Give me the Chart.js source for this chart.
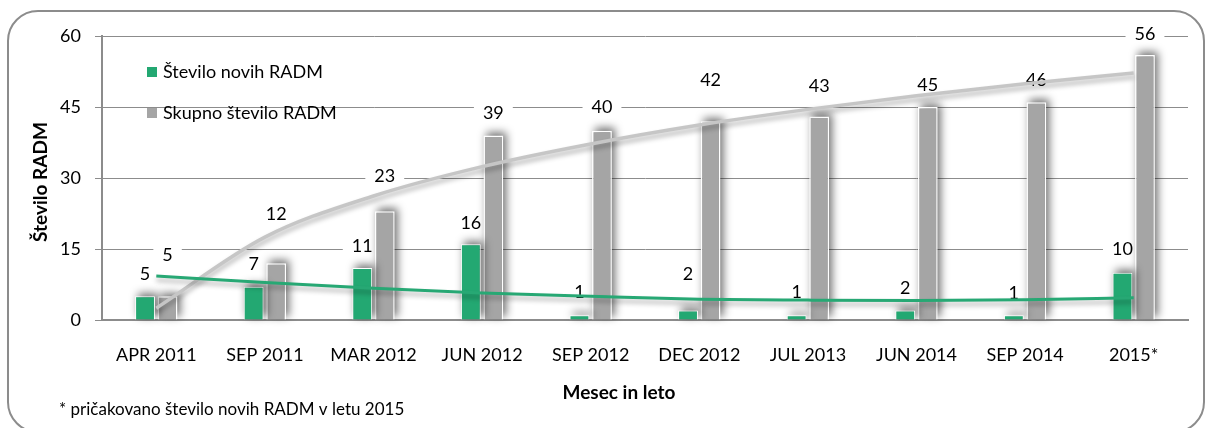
<!DOCTYPE html>
<html>
<head>
<meta charset="utf-8">
<script src="https://cdn.jsdelivr.net/npm/chart.js@4.4.1/dist/chart.umd.min.js"></script>
<style>
    html, body { margin: 0; padding: 0; background: #fff; }
</style>
</head>
<body>
<canvas id="chart_radm" width="1206" height="428"></canvas>
<script>
// podatki
const kategorije = ['APR 2011', 'SEP 2011', 'MAR 2012', 'JUN 2012', 'SEP 2012', 'DEC 2012', 'JUL 2013', 'JUN 2014', 'SEP 2014', '2015*'];
const noviRadm = [5, 7, 11, 16, 1, 2, 1, 2, 1, 10];
const skupnoRadm = [5, 12, 23, 39, 40, 42, 43, 45, 46, 56];
// trendni črti, odčitani s slike
const trendNovi = [9.3, 7.9, 6.7, 5.7, 5.0, 4.4, 4.2, 4.1, 4.3, 4.7];
const trendSkupno = [2.5, 17.5, 26.2, 32.4, 37.2, 41.2, 44.5, 47.4, 49.9, 52.2];
const yOznake = [0, 15, 30, 45, 60];

// zamik oznak nad stolpci (px)
const dvigNovi = [23, 24, 23, 22, 24, 37, 24, 23, 23, 24];
const dvigSkupno = [42, 50, 36, 23, 24, 42, 31, 23, 23, 22];

const ZELENA = '#23a872';
const SIVA = '#a5a5a5';

Chart.defaults.font.family = 'Lato';
Chart.defaults.color = '#000';

function narisiOznake(chart) {
    const ctx = chart.ctx;
    ctx.save();
    ctx.font = '18px Lato';
    ctx.textAlign = 'center';
    ctx.textBaseline = 'middle';
    const skupine = [[0, noviRadm, dvigNovi], [1, skupnoRadm, dvigSkupno]];
    skupine.forEach(function (s) {
        const meta = chart.getDatasetMeta(s[0]);
        meta.data.forEach(function (bar, i) {
            const besedilo = String(s[1][i]);
            const y = bar.y - s[2][i];
            const w = ctx.measureText(besedilo).width + 18;
            ctx.fillStyle = '#fff';
            ctx.fillRect(bar.x - w / 2, y - 11, w, 22);
            ctx.fillStyle = '#000';
            ctx.fillText(besedilo, bar.x, y + 1);
        });
    });
    ctx.restore();
}

const okvir = {
    id: 'okvir',
    beforeDraw(chart) {
        const ctx = chart.ctx;
        ctx.save();
        ctx.fillStyle = '#fff';
        ctx.fillRect(0, 0, chart.width, chart.height);
        ctx.beginPath();
        ctx.roundRect(8, 11, 1196, 421, 30);
        ctx.lineWidth = 2;
        ctx.strokeStyle = '#8c8c8c';
        ctx.stroke();
        ctx.restore();
    },
    beforeDatasetsDraw(chart) {
        narisiOznake(chart);
    },
    beforeDatasetDraw(chart, args) {
        const ctx = chart.ctx;
        if (args.meta.type === 'bar') {
            // senca stolpcev
            ctx.save();
            ctx.filter = 'blur(4px)';
            ctx.fillStyle = 'rgba(0,0,0,0.55)';
            args.meta.data.forEach(function (bar) {
                const w = bar.width;
                ctx.fillRect(bar.x - w / 2 + 3, bar.y - 3, w, bar.base - bar.y);
            });
            ctx.restore();
            ctx.save();
        } else {
            ctx.save();
            ctx.shadowColor = 'rgba(0,0,0,0.3)';
            ctx.shadowBlur = 5;
            ctx.shadowOffsetY = 4;
        }
    },
    afterDatasetDraw(chart) {
        chart.ctx.restore();
    },
    afterDraw(chart) {
        const ctx = chart.ctx;
        ctx.save();
        // legenda
        ctx.font = '18px Lato';
        ctx.textBaseline = 'middle';
        ctx.textAlign = 'left';
        ctx.fillStyle = ZELENA;
        ctx.fillRect(147, 67, 10, 10);
        ctx.fillStyle = SIVA;
        ctx.fillRect(147, 108, 10, 10);
        ctx.fillStyle = '#000';
        ctx.fillText(chart.data.datasets[0].label, 163, 72);
        ctx.fillText(chart.data.datasets[1].label, 163, 113);

        // naslova osi
        ctx.font = 'bold 19px Lato';
        ctx.textAlign = 'center';
        ctx.fillText('Mesec in leto', 619, 393);
        ctx.save();
        ctx.translate(41, 182);
        ctx.rotate(-Math.PI / 2);
        ctx.fillText('Število RADM', 0, 0);
        ctx.restore();

        // opomba
        ctx.font = '17px Lato';
        ctx.textAlign = 'left';
        ctx.fillText('* pričakovano število novih RADM v letu 2015', 59, 410);
        ctx.restore();
    }
};

let dados = {
    labels: kategorije,
    datasets: [{
        label: 'Število novih RADM',
        data: noviRadm,
        backgroundColor: ZELENA,
        borderColor: '#fff',
        borderWidth: 1,
        categoryPercentage: 0.415,
        barPercentage: 0.88,
        order: 1
    }, {
        label: 'Skupno število RADM',
        data: skupnoRadm,
        backgroundColor: SIVA,
        borderColor: '#fff',
        borderWidth: 1.5,
        categoryPercentage: 0.415,
        barPercentage: 0.88,
        order: 1
    }, {
        type: 'line',
        label: 'Trend novih',
        data: trendNovi,
        borderColor: '#27a874',
        borderWidth: 3,
        pointRadius: 0,
        cubicInterpolationMode: 'monotone',
        order: 0
    }, {
        type: 'line',
        label: 'Trend skupno',
        data: trendSkupno,
        borderColor: '#c6c6c6',
        borderWidth: 3.5,
        pointRadius: 0,
        cubicInterpolationMode: 'monotone',
        order: 0
    }]
};

const config = {
    type: 'bar',
    data: dados,
    plugins: [okvir],
    options: {
        responsive: false,
        animation: false,
        layout: { padding: { left: 0, top: 36, right: 18, bottom: 0 } },
        plugins: {
            legend: { display: false },
            tooltip: { enabled: false }
        },
        scales: {
            x: {
                grid: { display: false },
                border: { display: true, color: '#8c8c8c', width: 2 },
                ticks: { font: { size: 18 }, padding: 16, maxRotation: 0, autoSkip: false },
                afterFit: function (s) { s.height = 108; }
            },
            y: {
                min: 0,
                max: 60,
                afterBuildTicks: function (s) { s.ticks = yOznake.map(v => ({ value: v })); },
                grid: { color: '#8c8c8c', lineWidth: 1, tickLength: 7 },
                border: { display: true, color: '#8c8c8c', width: 2 },
                ticks: { font: { size: 18 }, padding: 14 },
                afterFit: function (s) { s.width = 102; }
            }
        }
    }
};

let myChart = new Chart(
    document.getElementById('chart_radm'),
    config,
);
</script>
</body>
</html>
